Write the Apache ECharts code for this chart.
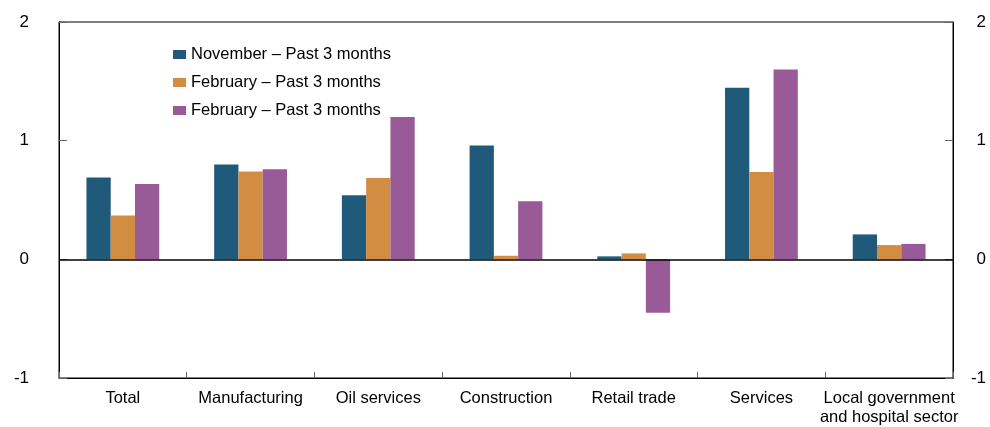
<!DOCTYPE html>
<html>
<head>
<meta charset="utf-8">
<script src="https://cdn.jsdelivr.net/npm/echarts@6/dist/echarts.min.js"></script>
<style>
  html, body { margin: 0; padding: 0; background: #fff; }
  #chart { width: 990px; height: 427px; }
</style>
</head>
<body>
<div id="chart"></div>
<script>
// categories and values
var categories = ['Total', 'Manufacturing', 'Oil services', 'Construction', 'Retail trade', 'Services', 'Local government\nand hospital sector'];
var seriesNames = ['November \u2013 Past 3 months', 'February \u2013 Past 3 months', 'February \u2013 Past 3 months '];
var novPast3 = [0.69, 0.80, 0.54, 0.96, 0.025, 1.445, 0.21];
var febPast3 = [0.37, 0.74, 0.685, 0.03, 0.05, 0.735, 0.12];
var febPast3b = [0.635, 0.76, 1.20, 0.49, -0.45, 1.60, 0.13];
var yTicks = [-1, 0, 1, 2];

var colors = ['#1f5a7b', '#d38d42', '#995b97'];
var font = 'Liberation Sans, Arial, sans-serif';

var myChart = echarts.init(document.getElementById('chart'));

function yAxis(pos) {
    return {
        type: 'value',
        position: pos,
        min: yTicks[0],
        max: yTicks[yTicks.length - 1],
        interval: 1,
        axisLine: { show: true, lineStyle: { color: '#000', width: 1 } },
        axisTick: { show: true, inside: true, length: 8, lineStyle: { color: '#666' } },
        splitLine: { show: false },
        axisLabel: {
            color: '#000', fontSize: 17, fontFamily: font,
            align: 'right',
            margin: pos === 'left' ? 30 : 33
        }
    };
}

var option = {
    backgroundColor: '#fff',
    animation: false,
    color: colors,
    grid: {
        left: 59, right: 37, top: 22, bottom: 46,
        show: true, borderColor: '#000', borderWidth: 1
    },
    legend: {
        orient: 'vertical',
        left: 168, top: 41,
        icon: 'rect',
        itemWidth: 13, itemHeight: 9, itemGap: 11,
        textStyle: { color: '#000', fontSize: 16.5, lineHeight: 16, fontFamily: font },
        data: seriesNames
    },
    xAxis: {
        type: 'category',
        data: categories,
        axisLine: { onZero: false, lineStyle: { color: '#000', width: 1 } },
        axisTick: { show: true, inside: true, length: 6, lineStyle: { color: '#666' } },
        axisLabel: { color: '#000', fontSize: 16.5, fontFamily: font, margin: 11, lineHeight: 19, interval: 0 }
    },
    yAxis: [yAxis('left'), yAxis('right')],
    series: [
        { name: seriesNames[0], type: 'bar', data: novPast3, barWidth: '19%', barGap: '0%',
          markLine: { silent: true, symbol: 'none', label: { show: false },
                      lineStyle: { color: '#000', type: 'solid', width: 1.5 }, data: [{ yAxis: 0 }] } },
        { name: seriesNames[1], type: 'bar', data: febPast3, barWidth: '19%', barGap: '0%' },
        { name: seriesNames[2], type: 'bar', data: febPast3b, barWidth: '19%', barGap: '0%' }
    ]
};
myChart.setOption(option);
</script>
</body>
</html>
